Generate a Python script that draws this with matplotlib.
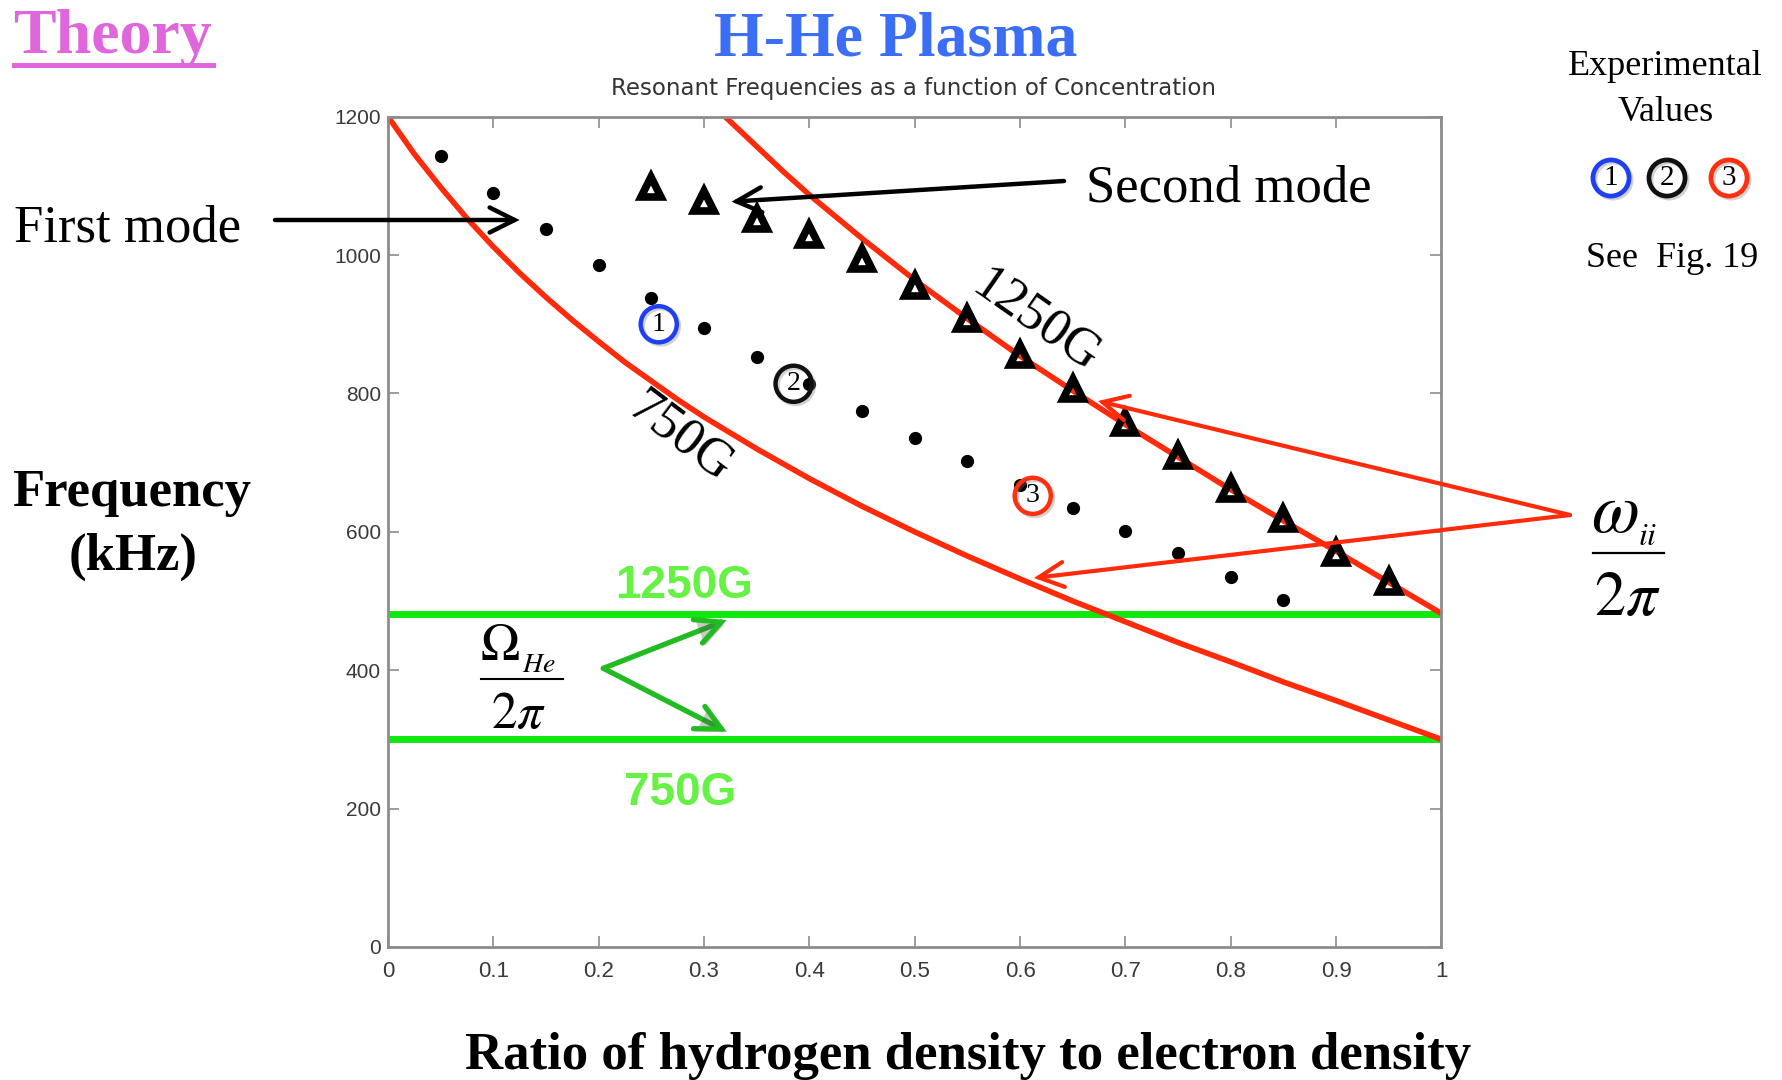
import matplotlib
matplotlib.use("Agg")
import matplotlib.pyplot as plt
from matplotlib.patches import FancyArrowPatch, ArrowStyle
from matplotlib.lines import Line2D
import matplotlib.patheffects as pe

plt.rcParams["mathtext.fontset"] = "stix"

# ---------------- data ----------------
x_first = [0.05, 0.10, 0.15, 0.20, 0.25, 0.30, 0.35, 0.40, 0.45, 0.50,
           0.55, 0.60, 0.65, 0.70, 0.75, 0.80, 0.85]
f_first = [1143, 1090, 1037, 985, 938, 894, 852, 814, 775, 735,
           702, 667, 635, 601, 569, 535, 501]

x_second = [0.25, 0.30, 0.35, 0.40, 0.45, 0.50, 0.55, 0.60, 0.65, 0.70,
            0.75, 0.80, 0.85, 0.90, 0.95]
f_second = [1099, 1078, 1052, 1029, 995, 956, 908, 856, 806, 758,
            710, 662, 619, 570, 528]

x_w750 = [0.0, 0.025, 0.05, 0.075, 0.10, 0.125, 0.15, 0.175, 0.20, 0.225,
          0.25, 0.275, 0.30, 0.35, 0.40, 0.45, 0.50, 0.55, 0.60, 0.65,
          0.70, 0.75, 0.80, 0.85, 0.90, 0.95, 1.0]
f_w750 = [1200, 1146, 1098, 1053, 1012, 974, 939, 906, 875, 845,
          818, 791, 766, 720, 677, 637, 600, 565, 532, 500,
          470, 440, 412, 383, 356, 328, 300]

x_w1250 = [0.32, 0.35, 0.375, 0.40, 0.45, 0.50, 0.55, 0.60, 0.65, 0.70,
           0.75, 0.80, 0.85, 0.90, 0.95, 1.0]
f_w1250 = [1200, 1157, 1121, 1087, 1024, 964, 908, 854, 804, 755,
           708, 661, 616, 572, 527, 482]

omega_he = {"1250G": 481, "750G": 300}

circ_x = [0.257, 0.385, 0.612]
circ_y = [900, 814, 652]
circ_labels = ["1", "2", "3"]
circ_colors = ["#1f3ff2", "#111111", "#ff3010"]

x_ticks = [0, 0.1, 0.2, 0.3, 0.4, 0.5, 0.6, 0.7, 0.8, 0.9, 1.0]
x_tick_labels = ["0", "0.1", "0.2", "0.3", "0.4", "0.5", "0.6", "0.7", "0.8", "0.9", "1"]
y_ticks = [0, 200, 400, 600, 800, 1000, 1200]
y_tick_labels = ["0", "200", "400", "600", "800", "1000", "1200"]

# ---------------- style ----------------
W, H, DPI = 1783, 1080, 100
SERIF = "Liberation Serif"
SANS = "Liberation Sans"
RED = "#ff2a0a"
GREEN_LINE = "#10e810"
GREEN_TXT = "#66f244"
GREEN_ARROW = "#22bb22"
MAG = "#e066dc"
BLUE = "#3b6ef5"
AXC = "#8c8c8c"

fig = plt.figure(figsize=(W / DPI, H / DPI), dpi=DPI, facecolor="white")


def fx(px):
    return px / W


def fy(py):
    return 1 - py / H


ax = fig.add_axes([fx(388), fy(947), (1441.5 - 388) / W, (947 - 116.7) / H])
ax.set_xlim(0, 1)
ax.set_ylim(0, 1200)
ax.set_xticks(x_ticks)
ax.set_xticklabels(x_tick_labels, family=SANS, fontsize=16)
ax.set_yticks(y_ticks)
ax.set_yticklabels(y_tick_labels, family=SANS, fontsize=15)
ax.tick_params(direction="in", top=True, right=True, length=8, width=1.2,
               color=AXC, labelcolor="#3a3a3a")
ax.tick_params(axis="x", pad=10)
ax.tick_params(axis="y", pad=5)
for s in ax.spines.values():
    s.set_color(AXC)
    s.set_linewidth(2)

# horizontal He cyclotron lines
for key in ["1250G", "750G"]:
    ax.axhline(omega_he[key], color=GREEN_LINE, lw=5, zorder=2)

# red curves
ax.plot(x_w750, f_w750, color=RED, lw=4, zorder=2, solid_capstyle="butt")
ax.plot(x_w1250, f_w1250, color=RED, lw=4, zorder=2, solid_capstyle="butt")

# modes
ax.plot(x_first, f_first, ls="none", marker="o", ms=8.5, color="black", zorder=4)
ax.plot(x_second, f_second, ls="none", marker="^", ms=15, mfc="none",
        mec="black", mew=5.5, zorder=4)

shadow = [pe.SimpleLineShadow(offset=(1.5, -1.5), alpha=0.35, shadow_color="gray"), pe.Normal()]

# experimental value circles in plot
for cx, cy, lab, col in zip(circ_x, circ_y, circ_labels, circ_colors):
    ax.plot([cx], [cy], marker="o", ms=26, mfc="none", mec=col, mew=3.2,
            zorder=5, path_effects=shadow)
    ax.text(cx, cy, lab, ha="center", va="center", fontsize=20,
            family=SERIF, zorder=6)

# curve labels
ax.text(0.278, 737, "750G", rotation=-37, rotation_mode="anchor",
        ha="center", va="center", fontsize=38, family=SERIF)
ax.text(0.615, 904, "1250G", rotation=-35, rotation_mode="anchor",
        ha="center", va="center", fontsize=38, family=SERIF)

# ---------------- figure texts ----------------
fig.text(fx(112), fy(53), "Theory", fontsize=46, fontweight="bold",
         family=SERIF, color=MAG, ha="center", va="baseline")
fig.add_artist(Line2D([fx(13.6), fx(212.6)], [fy(64.5), fy(64.5)],
                      color=MAG, lw=3.6, transform=fig.transFigure))
fig.text(fx(896), fy(55), "H-He Plasma", fontsize=46, fontweight="bold",
         family=SERIF, color=BLUE, ha="center", va="baseline")
fig.text(fx(914), fy(89), "Resonant Frequencies as a function of Concentration",
         fontsize=16.5, family="DejaVu Sans", color="#333333", ha="center", va="center")

fig.text(fx(1665.5), fy(75), "Experimental", fontsize=26, family=SERIF,
         ha="center", va="baseline")
fig.text(fx(1666), fy(121), "Values", fontsize=26, family=SERIF,
         ha="center", va="baseline")
for px, lab, col in zip([1611, 1667, 1729], circ_labels, circ_colors):
    fig.add_artist(Line2D([fx(px)], [fy(178)], marker="o", ms=26, mfc="none",
                          mec=col, mew=3.4, transform=fig.transFigure,
                          path_effects=shadow))
    fig.text(fx(px), fy(178), lab, fontsize=21, family=SERIF,
             ha="center", va="center")
fig.text(fx(1672), fy(267), "See  Fig. 19", fontsize=26, family=SERIF,
         ha="center", va="baseline")

fig.text(fx(13.6), fy(242), "First mode", fontsize=38, family=SERIF,
         ha="left", va="baseline")
fig.text(fx(1086), fy(202), "Second mode", fontsize=38, family=SERIF,
         ha="left", va="baseline")

fig.text(fx(132), fy(506), "Frequency", fontsize=38, fontweight="bold",
         family=SERIF, ha="center", va="baseline")
fig.text(fx(133.5), fy(570), "(kHz)", fontsize=38, fontweight="bold",
         family=SERIF, ha="center", va="baseline")
fig.text(fx(968), fy(1069), "Ratio of hydrogen density to electron density",
         fontsize=38, fontweight="bold", family=SERIF, ha="center", va="baseline")

# green labels
fig.text(fx(684), fy(598), "1250G", fontsize=33, fontweight="bold",
         family=SANS, color=GREEN_TXT, ha="center", va="baseline")
fig.text(fx(680), fy(805), "750G", fontsize=33, fontweight="bold",
         family=SANS, color=GREEN_TXT, ha="center", va="baseline")

# Omega_He / 2pi
fig.text(fx(500), fy(660), r"$\Omega$", fontsize=38, ha="center", va="baseline")
fig.text(fx(522), fy(672), r"$He$", fontsize=20, ha="left", va="baseline")
fig.add_artist(Line2D([fx(481), fx(563)], [fy(678.5), fy(678.5)], color="black",
                      lw=1.5, transform=fig.transFigure))
fig.text(fx(519), fy(728), r"$2\pi$", fontsize=37, ha="center", va="baseline")

# omega_ii / 2pi
fig.text(fx(1615), fy(532), r"$\omega$", fontsize=50, ha="center", va="baseline")
fig.text(fx(1638), fy(545), r"$ii$", fontsize=23, ha="left", va="baseline")
fig.add_artist(Line2D([fx(1593), fx(1664)], [fy(553), fy(553)], color="black",
                      lw=1.6, transform=fig.transFigure))
fig.text(fx(1627), fy(615), r"$2\pi$", fontsize=45, ha="center", va="baseline")


# ---------------- arrows ----------------
def arrow(p0, p1, color, lw, hl=0.9, hw=0.45, ms=20, effects=None):
    a = FancyArrowPatch((fx(p0[0]), fy(p0[1])), (fx(p1[0]), fy(p1[1])),
                        transform=fig.transFigure,
                        arrowstyle=ArrowStyle("->", head_length=hl, head_width=hw),
                        mutation_scale=ms, color=color, lw=lw,
                        shrinkA=0, shrinkB=0, capstyle="round", joinstyle="miter")
    if effects:
        a.set_path_effects(effects)
    fig.add_artist(a)


arrow((275, 220), (519.6, 220), "black", 3.2)
arrow((1064, 181), (731.6, 201.7), "black", 3.2)
arrow((1570, 515), (1098, 401), RED, 3.0)
arrow((1570, 515), (1034, 578), RED, 3.0)
gshadow = [pe.SimplePatchShadow(offset=(2, -2), alpha=0.3), pe.Normal()]
arrow((603.3, 668.3), (726.7, 620), GREEN_ARROW, 3.8, effects=gshadow)
arrow((603.3, 668.3), (726.7, 731.7), GREEN_ARROW, 3.8, effects=gshadow)

fig.savefig("out.png", dpi=DPI, facecolor="white")
